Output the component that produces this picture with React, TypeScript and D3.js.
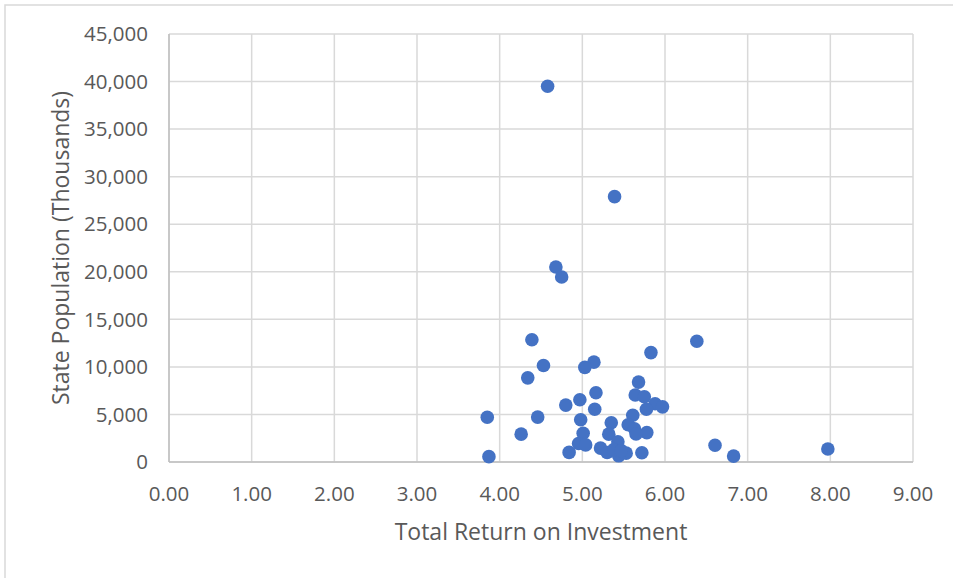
import React from "react";
import * as d3 from "d3";

const returns = [
  4.58, 5.39, 4.68, 4.75, 4.39, 6.385, 5.83, 4.53, 5.14, 5.03,
  4.34, 5.68, 5.165, 5.64, 5.75, 4.97, 4.80, 5.88, 5.97, 5.775,
  5.15, 3.85, 4.46, 5.61, 4.98, 5.35, 5.555, 5.63, 4.26, 5.32,
  5.01, 5.78, 5.65, 4.955, 5.04, 5.43, 6.605, 7.97, 5.22, 4.84,
  5.30, 5.72, 5.53, 5.44, 6.83, 3.87, 5.38, 5.47
];
const populations = [
  39500, 27900, 20500, 19450, 12850, 12700, 11500, 10150, 10500, 9950,
  8850, 8400, 7280, 7050, 6860, 6540, 5980, 6120, 5800, 5540,
  5540, 4700, 4720, 4910, 4440, 4120, 3910, 3500, 2930, 2930,
  3020, 3090, 2950, 1950, 1800, 2130, 1760, 1360, 1460, 1010,
  1000, 970, 930, 650, 620, 560, 1300, 1200
];
const xTicks = [0, 1, 2, 3, 4, 5, 6, 7, 8, 9];
const yTicks = [0, 5000, 10000, 15000, 20000, 25000, 30000, 35000, 40000, 45000];

const W = 953, H = 578;
const L = 169, R = 913, T = 34, B = 462;
const font = "'Open Sans', sans-serif";
const textColor = "#595959";

export default function App() {
  const x = d3.scaleLinear().domain([0, 9]).range([L, R]);
  const y = d3.scaleLinear().domain([0, 45000]).range([B, T]);
  const fmtX = d3.format(".2f");
  const fmtY = d3.format(",");
  const pts = returns.map((r, i) => ({ r, p: populations[i] }));
  return (
    <svg width={W} height={H} style={{ position: "absolute", left: 0, top: 0, background: "#fff" }}>
      <rect x={5} y={5} width={W + 10} height={H + 10} fill="#fff" stroke="#d9d9d9" strokeWidth={1.5} />
      {yTicks.map((t) => (
        <line key={"gy" + t} x1={L} x2={R} y1={y(t)} y2={y(t)} stroke="#d9d9d9" strokeWidth={1.5} />
      ))}
      {xTicks.map((t) => (
        <line key={"gx" + t} x1={x(t)} x2={x(t)} y1={T} y2={B} stroke="#d9d9d9" strokeWidth={1.5} />
      ))}
      <line x1={L} x2={L} y1={T} y2={B} stroke="#bfbfbf" strokeWidth={1.5} />
      <line x1={L} x2={R} y1={B} y2={B} stroke="#bfbfbf" strokeWidth={1.5} />
      {yTicks.map((t) => (
        <text key={"ly" + t} x={148} y={y(t)} dy="0.35em" textAnchor="end" fontFamily={font} fontSize={20.5} fill={textColor}>
          {fmtY(t)}
        </text>
      ))}
      {xTicks.map((t) => (
        <text key={"lx" + t} x={x(t)} y={501} textAnchor="middle" fontFamily={font} fontSize={20.5} fill={textColor}>
          {fmtX(t)}
        </text>
      ))}
      <text x={541} y={540} textAnchor="middle" fontFamily={font} fontSize={23} fill={textColor}>
        Total Return on Investment
      </text>
      <text
        transform={`translate(69, 248) rotate(-90)`}
        textAnchor="middle"
        fontFamily={font}
        fontSize={23}
        fill={textColor}
      >
        State Population (Thousands)
      </text>
      {pts.map((d, i) => (
        <circle key={i} cx={x(d.r)} cy={y(d.p)} r={6.8} fill="#4472C4" />
      ))}
    </svg>
  );
}
